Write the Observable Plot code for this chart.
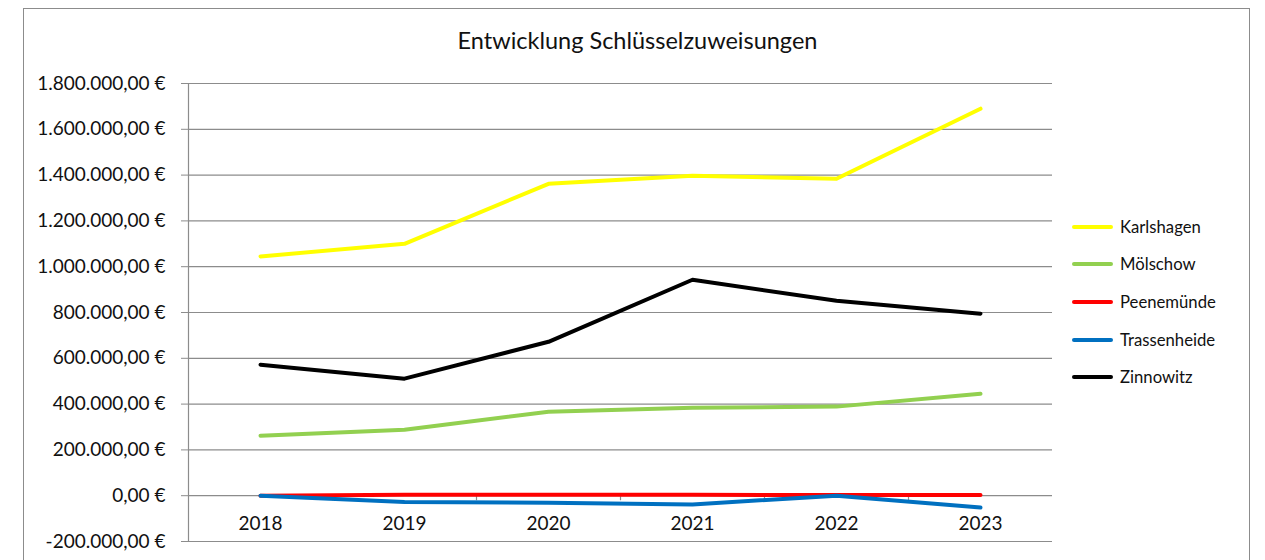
<!DOCTYPE html>
<html>
<head>
<meta charset="utf-8">
<script src="https://cdn.jsdelivr.net/npm/d3@7"></script>
<script src="https://cdn.jsdelivr.net/npm/@observablehq/plot@0.6"></script>
<style>
  html, body { margin: 0; padding: 0; background: #fff; }
  #wrap { position: relative; width: 1265px; height: 560px; overflow: hidden; font-family: Lato, "Noto Sans", sans-serif; }
  #frame { position: absolute; left: 23px; top: 8px; width: 1227px; height: 600px; border: 1.5px solid #8c8c8c; box-sizing: border-box; }
  #title { position: absolute; left: 0; width: 1275px; top: 26px; text-align: center; font-size: 23.5px; color: #111; line-height: 1.2; }
  #chart { position: absolute; left: 0; top: 0; }
  #legend { position: absolute; left: 1072px; top: 208px; font-size: 16.7px; color: #111; }
  .li { display: flex; align-items: center; height: 37.6px; }
  .sw { width: 41px; height: 4px; border-radius: 2px; margin-right: 7px; }
</style>
</head>
<body>
<div id="wrap">
  <div id="frame"></div>
  <div id="title">Entwicklung Schlüsselzuweisungen</div>
  <div id="chart"></div>
  <div id="legend"></div>
</div>
<script>
const years = [2018, 2019, 2020, 2021, 2022, 2023];
const names = ["Karlshagen", "Mölschow", "Peenemünde", "Trassenheide", "Zinnowitz"];
const colors = ["#ffff00", "#92d050", "#ff0000", "#0070c0", "#000000"];
const karlshagen   = [1045000, 1100000, 1362000, 1397000, 1384000, 1690000];
const moelschow    = [262000, 288000, 367000, 384000, 389000, 445000];
const peenemuende  = [0, 4000, 4000, 4000, 3000, 3000];
const trassenheide = [0, -27500, -30500, -38000, 0, -52000];
const zinnowitz    = [572000, 511000, 672000, 943000, 851000, 795000];
const yTicks = [-200000, 0, 200000, 400000, 600000, 800000, 1000000, 1200000, 1400000, 1600000, 1800000];

const seriesValues = [karlshagen, moelschow, peenemuende, trassenheide, zinnowitz];
const data = [];
names.forEach((n, i) => years.forEach((y, j) => data.push({name: n, year: y, value: seriesValues[i][j]})));
const bounds = years.slice(0, -1).map(y => y + 0.5);

const loc = d3.formatLocale({decimal: ",", thousands: ".", grouping: [3], currency: ["", " €"], minus: "-"});
const fmt = v => loc.format(",.2f")(v) + " €";

const plot = Plot.plot({
  width: 1265,
  height: 560,
  marginLeft: 188,
  marginRight: 213,
  marginTop: 83,
  marginBottom: 19,
  style: {fontFamily: "Lato, 'Noto Sans', sans-serif", fontSize: "19px", color: "#111", background: "transparent"},
  x: {type: "linear", domain: [2017.5, 2023.5], axis: null},
  y: {domain: [-200000, 1800000], axis: null},
  color: {domain: names, range: colors},
  marks: [
    Plot.gridY(yTicks, {stroke: "#8c8c8c", strokeOpacity: 1, strokeWidth: 1.2}),
    Plot.ruleX([2017.5], {y1: -200000, y2: 1800000, stroke: "#8c8c8c", strokeWidth: 1.2}),
    Plot.axisY(yTicks, {tickFormat: fmt, tickSize: 7, tickPadding: 16, stroke: "#8c8c8c", fill: "#111", fontSize: 19, label: null}),
    Plot.ruleX(bounds, {y1: 0, y2: -22000, stroke: "#8c8c8c", strokeWidth: 1.2}),
    Plot.text(years, {x: d => d, y: 0, dy: 28, text: d => String(d), fill: "#111", fontSize: 19}),
    Plot.line(data, {x: "year", y: "value", z: "name", stroke: "name", strokeWidth: 4, strokeLinejoin: "round", strokeLinecap: "round"})
  ]
});
document.getElementById("chart").appendChild(plot);

const lg = document.getElementById("legend");
names.forEach((n, i) => {
  const row = document.createElement("div");
  row.className = "li";
  row.innerHTML = `<div class="sw" style="background:${colors[i]}"></div><span>${n}</span>`;
  lg.appendChild(row);
});
</script>
</body>
</html>
